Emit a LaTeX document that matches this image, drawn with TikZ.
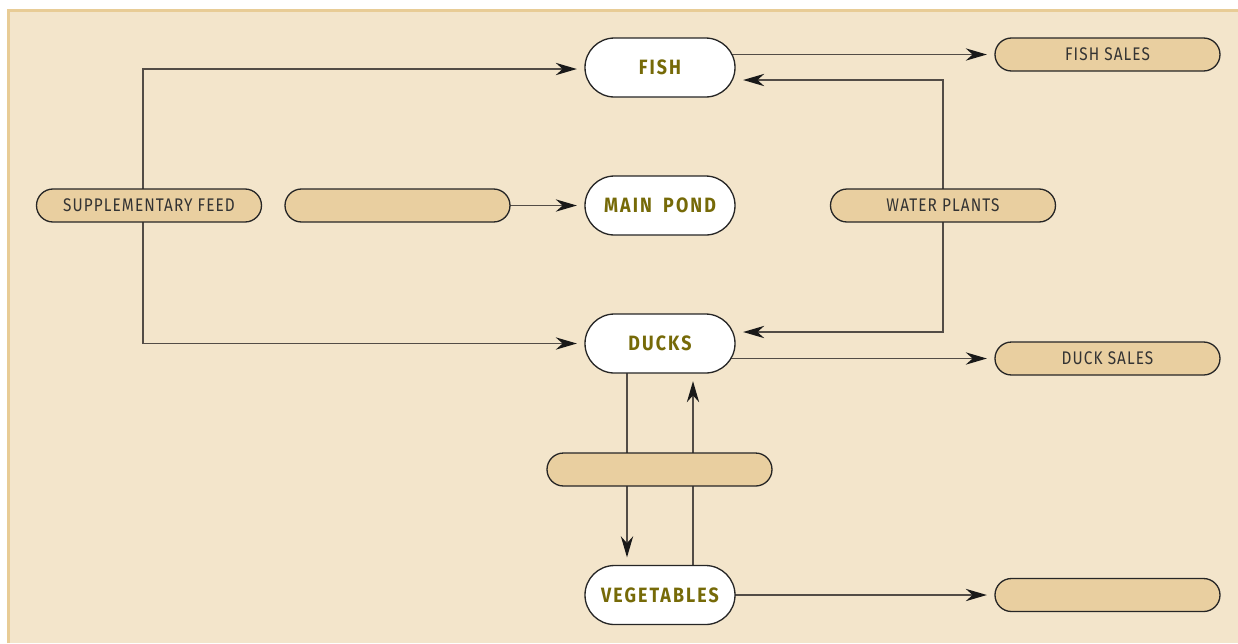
\documentclass[tikz,border=0pt]{standalone}
\usepackage{fontspec}
\setmainfont{Fira Sans}
\newfontfamily\boxfont[FakeStretch=0.84,LetterSpace=6]{Fira Sans}
\newfontfamily\stockfont[FakeStretch=0.86,LetterSpace=10,WordSpace=1.8]{Fira Sans}
\usetikzlibrary{shapes.misc,arrows.meta}
\definecolor{paper}{RGB}{243,229,203}
\definecolor{rim}{RGB}{232,204,150}
\definecolor{tanbox}{RGB}{233,207,160}
\definecolor{olive}{RGB}{118,106,8}
\definecolor{ink}{RGB}{82,76,70}
\pgfdeclarelayer{paperlayer}
\pgfdeclarelayer{linklayer}
\pgfsetlayers{paperlayer,linklayer,main}
\begin{document}
\begin{tikzpicture}[line join=round,
	stock/.style={rounded rectangle,draw=black!85,line width=0.75pt,fill=white,minimum width=3cm,minimum height=1.18cm,inner sep=0pt,text=olive,font=\stockfont\bfseries\fontsize{11.8}{12}\selectfont},
	flow/.style={rounded rectangle,draw=black!85,line width=0.75pt,fill=tanbox,minimum width=4.5cm,minimum height=0.66cm,inner sep=0pt,text=black!80,font=\boxfont\fontsize{10.4}{12}\selectfont},
	link/.style={draw=ink,line width=0.8pt,-{Stealth[length=12pt,width=7pt,color=black!90]},shorten >=0.15cm}]
	\useasboundingbox (0,0) rectangle (24.76,-12.86);
	\begin{pgfonlayer}{paperlayer}
		\fill[paper] (0.16,-0.2) rectangle (24.76,-12.86);
		\draw[rim,line width=1.2pt] (0.17,-12.86)--(0.17,-0.21)--(24.76,-0.21);
	\end{pgfonlayer}
	% the four stocks
	\node[stock] (fish) at (13.2,-1.35) {FISH};
	\node[stock] (pond) at (13.2,-4.11) {MAIN POND};
	\node[stock] (ducks) at (13.2,-6.87) {DUCKS};
	\node[stock] (veg) at (13.2,-11.9) {VEGETABLES};
	% inputs and outputs
	\node[flow] (feed) at (2.98,-4.11) {SUPPLEMENTARY FEED};
	\node[flow] (pondin) at (7.95,-4.11) {};
	\node[flow] (plants) at (18.86,-4.11) {WATER PLANTS};
	\node[flow] (mid) at (13.19,-9.39) {};
	\node[flow] (fishsales) at (22.15,-1.09) {FISH SALES};
	\node[flow] (ducksales) at (22.15,-7.17) {DUCK SALES};
	\node[flow] (vegout) at (22.15,-11.9) {};
	\begin{pgfonlayer}{linklayer}
		\draw[link] ([xshift=-0.12cm]feed.center) |- ([yshift=-0.03cm]fish.west);
		\draw[link] ([xshift=-0.12cm]feed.center) |- (ducks.west);
		\draw[link] (pondin.center) -- (pond.west);
		\draw[link] (plants.center) |- ([yshift=-0.25cm]fish.east);
		\draw[link] (plants.center) |- ([yshift=0.23cm]ducks.east);
		\draw[link] (fish.center |- fishsales) -- (fishsales.west);
		\draw[link] (ducks.center |- ducksales) -- (ducksales.west);
		\draw[link] (veg.center) -- (vegout.west);
		\draw[link] ([xshift=-0.66cm]ducks.center) -- ([xshift=-0.66cm]veg.north);
		\draw[link] ([xshift=0.66cm]veg.center) -- ([xshift=0.66cm]ducks.south);
	\end{pgfonlayer}
\end{tikzpicture}
\end{document}
